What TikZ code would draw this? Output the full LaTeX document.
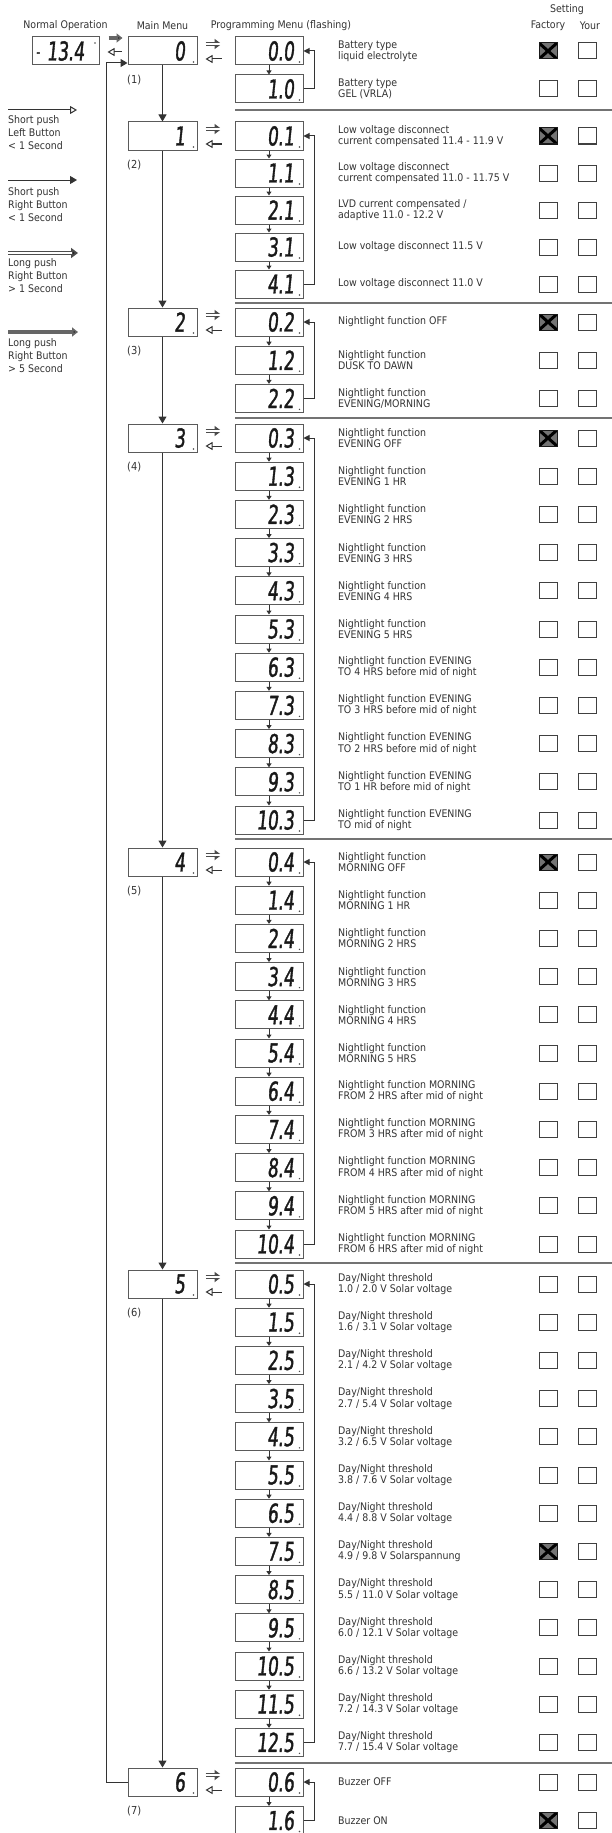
\documentclass[tikz,border=0pt]{standalone}
\usepackage{fontspec}
\setmainfont{DejaVu Sans Condensed}
\newfontfamily\segfont[FakeStretch=0.72,FakeSlant=0.1,FakeBold=1.4]{DejaVu Sans Condensed}
\usetikzlibrary{arrows.meta}
\definecolor{ink}{HTML}{333333}
\definecolor{frame}{HTML}{5A5A5A}
\tikzset{
  lcd/.style={draw=frame,line width=1pt,minimum height=28pt,inner ysep=0pt,align=right,text=black!90,
    font=\segfont\fontsize{26}{26}\selectfont,
    path picture={\fill[black!70] ([shift={(-3.5pt,3pt)}]path picture bounding box.south east) circle (0.8pt);}},
  mn/.style={lcd,text width=45pt,inner xsep=12pt},
  pm/.style={lcd,text width=50pt,inner xsep=9pt},
  nm/.style={lcd,text width=59pt,inner xsep=4pt,align=left,
    path picture={\fill[black!70] ([shift={(-4pt,-6pt)}]path picture bounding box.north east) circle (0.8pt);}},
  txt/.style={anchor=west,align=left,inner sep=0pt,text=ink,font=\fontsize{10.5}{9}\selectfont},
  hdr/.style={inner sep=0pt,text=ink,font=\fontsize{10.5}{12}\selectfont},
  lgd/.style={anchor=north west,align=left,inner sep=0pt,text=ink,font=\fontsize{10.5}{13}\selectfont},
  lbl/.style={anchor=west,inner sep=0pt,text=ink,font=\fontsize{11}{12}\selectfont},
  cb0/.style={draw=black!75,line width=1pt,minimum width=18pt,minimum height=16pt,inner sep=0pt},
  cb1/.style={cb0,fill=black!55,draw=black!90,
    path picture={\draw[black,line width=3pt]
      (path picture bounding box.north west) -- (path picture bounding box.south east)
      (path picture bounding box.north east) -- (path picture bounding box.south west);}},
  sep/.style={draw=black!55,line width=1.3pt},
  sr/.style={draw=ink,line width=1pt,-{Triangle[length=7pt,width=8pt]}},
  dn/.style={draw=ink,line width=1pt,-{Triangle[length=4pt,width=5pt]}},
  bk/.style={draw=ink,line width=1pt,-{Triangle[length=6pt,width=6pt]}},
  sl/.style={draw=ink,line width=1pt,-{Triangle[open,length=7pt,width=8pt]}},
  lp/.style={draw=black!70,line width=3.8pt,-{Triangle[length=7pt,width=10pt,fill=black!85]},
    postaction={draw=white,line width=1.1pt,-,shorten >=6pt}},
  lp5/.style={draw=black!60,line width=4pt,-{Triangle[length=6pt,width=9pt,fill=black!80]}},
}

\begin{document}
\begin{tikzpicture}[x=1pt,y=-1pt]
  \useasboundingbox (0,0) rectangle (612,1833);

  % headers
  \node[hdr] (h1) at (65.5,26) {Normal Operation};
  \node[hdr] (h2) at (162.5,26) {Main Menu};
  \node[hdr] (h3) at (281,26) {Programming Menu (flashing)};
  \node[hdr] (h4) at (567,10) {Setting};
  \node[hdr] (h5) at (548,26) {Factory};
  \node[hdr] (h6) at (590,26) {Your};

  % legend
  \coordinate (la1) at (8,110);  \coordinate (lb1) at (77,110);
  \coordinate (la2) at (8,180);  \coordinate (lb2) at (77,180);
  \coordinate (la3) at (8,253);  \coordinate (lb3) at (78,253);
  \coordinate (la4) at (8,332);  \coordinate (lb4) at (78,332);
  \draw[sl] (la1) -- (lb1);
  \draw[sr] (la2) -- (lb2);
  \draw[lp] (la3) -- (lb3);
  \draw[lp5] (la4) -- (lb4);
  \node[lgd] (lt1) at (8,115) {Short push\\Left Button\\< 1 Second};
  \node[lgd] (lt2) at (8,187) {Short push\\Right Button\\< 1 Second};
  \node[lgd] (lt3) at (8,258) {Long push\\Right Button\\> 1 Second};
  \node[lgd] (lt4) at (8,338) {Long push\\Right Button\\> 5 Second};

  % normal display and main menu
  \node[nm] (nrm) at (65.5,51) {\raisebox{3pt}{\fontsize{16}{16}\selectfont -}\hspace{7pt}13.4};
  \node[mn] (m0) at (162.5,51) {0};
  \node[mn] (m1) at (162.5,136) {1};
  \node[mn] (m2) at (162.5,322) {2};
  \node[mn] (m3) at (162.5,438) {3};
  \node[mn] (m4) at (162.5,862) {4};
  \node[mn] (m5) at (162.5,1284) {5};
  \node[mn] (m6) at (162.5,1782) {6};
  \node[lbl] (n0) at (127,80) {(1)};
  \node[lbl] (n1) at (127,165) {(2)};
  \node[lbl] (n2) at (127,351) {(3)};
  \node[lbl] (n3) at (127,467) {(4)};
  \node[lbl] (n4) at (127,891) {(5)};
  \node[lbl] (n5) at (127,1313) {(6)};
  \node[lbl] (n6) at (127,1811) {(7)};

  \draw[lp5,shorten <=9pt,shorten >=5pt] ([yshift=13pt]nrm.east) -- ([yshift=13pt]m0.west);
  \draw[sl,shorten <=6pt,shorten >=8pt] ([yshift=-1pt]m0.west) -- ([yshift=-1pt]nrm.east);
  \draw[sr] (m0) -- (m1);
  \draw[sr] (m1) -- (m2);
  \draw[sr] (m2) -- (m3);
  \draw[sr] (m3) -- (m4);
  \draw[sr] (m4) -- (m5);
  \draw[sr] (m5) -- (m6);
  \draw[sr] (m6.west) -- ++(-21,0) |- ([yshift=-12pt]m0.west);

  % programming menu, group 0
  \foreach \dg/\tx/\fx [count=\i from 0, evaluate=\i as \yy using 37+\i*38] in {
    0.0/{Battery type\\liquid electrolyte}/1,
    1.0/{Battery type\\GEL (VRLA)}/0}{
    \node[pm] (p0-\i) at (269,\yy+14) {\dg};
    \node[txt] (t0-\i) at (338,\yy+14) {\tx};
    \node[cb\fx] (f0-\i) at (548,\yy+14) {};
    \node[cb0] (u0-\i) at (587,\yy+14) {};
  }
  \foreach \i [evaluate=\i as \j using int(\i+1)] in {0}{\draw[dn] (p0-\i) -- (p0-\j);}
  \draw[bk] (p0-1.east) -- ++(11,0) |- (p0-0.east);

  % group 1
  \foreach \dg/\tx/\fx [count=\i from 0, evaluate=\i as \yy using 122+\i*37] in {
    0.1/{Low voltage disconnect\\current compensated 11.4 - 11.9 V}/1,
    1.1/{Low voltage disconnect\\current compensated 11.0 - 11.75 V}/0,
    2.1/{LVD current compensated /\\adaptive 11.0 - 12.2 V}/0,
    3.1/{Low voltage disconnect 11.5 V}/0,
    4.1/{Low voltage disconnect 11.0 V}/0}{
    \node[pm] (p1-\i) at (269,\yy+14) {\dg};
    \node[txt] (t1-\i) at (338,\yy+14) {\tx};
    \node[cb\fx] (f1-\i) at (548,\yy+14) {};
    \node[cb0] (u1-\i) at (587,\yy+14) {};
  }
  \foreach \i [evaluate=\i as \j using int(\i+1)] in {0,...,3}{\draw[dn] (p1-\i) -- (p1-\j);}
  \draw[bk] (p1-4.east) -- ++(11,0) |- (p1-0.east);

  % group 2
  \foreach \dg/\tx/\fx [count=\i from 0, evaluate=\i as \yy using 308+\i*38.2] in {
    0.2/{Nightlight function OFF}/1,
    1.2/{Nightlight function\\DUSK  TO DAWN}/0,
    2.2/{Nightlight function\\EVENING/MORNING}/0}{
    \node[pm] (p2-\i) at (269,\yy+14) {\dg};
    \node[txt] (t2-\i) at (338,\yy+14) {\tx};
    \node[cb\fx] (f2-\i) at (548,\yy+14) {};
    \node[cb0] (u2-\i) at (587,\yy+14) {};
  }
  \foreach \i [evaluate=\i as \j using int(\i+1)] in {0,1}{\draw[dn] (p2-\i) -- (p2-\j);}
  \draw[bk] (p2-2.east) -- ++(11,0) |- (p2-0.east);

  % group 3
  \foreach \dg/\tx/\fx [count=\i from 0, evaluate=\i as \yy using 424+\i*38.2] in {
    0.3/{Nightlight function\\EVENING OFF}/1,
    1.3/{Nightlight function\\EVENING 1 HR}/0,
    2.3/{Nightlight function\\EVENING 2 HRS}/0,
    3.3/{Nightlight function\\EVENING 3 HRS}/0,
    4.3/{Nightlight function\\EVENING 4 HRS}/0,
    5.3/{Nightlight function\\EVENING 5 HRS}/0,
    6.3/{Nightlight function EVENING\\TO 4 HRS before mid of night}/0,
    7.3/{Nightlight function EVENING\\TO 3 HRS before mid of night}/0,
    8.3/{Nightlight function EVENING\\TO 2 HRS before mid of night}/0,
    9.3/{Nightlight function EVENING\\TO 1 HR before mid of night}/0,
    10.3/{Nightlight function EVENING\\TO mid of night}/0}{
    \node[pm] (p3-\i) at (269,\yy+14) {\dg};
    \node[txt] (t3-\i) at (338,\yy+14) {\tx};
    \node[cb\fx] (f3-\i) at (548,\yy+14) {};
    \node[cb0] (u3-\i) at (587,\yy+14) {};
  }
  \foreach \i [evaluate=\i as \j using int(\i+1)] in {0,...,9}{\draw[dn] (p3-\i) -- (p3-\j);}
  \draw[bk] (p3-10.east) -- ++(11,0) |- (p3-0.east);

  % group 4
  \foreach \dg/\tx/\fx [count=\i from 0, evaluate=\i as \yy using 848+\i*38.2] in {
    0.4/{Nightlight function\\MORNING OFF}/1,
    1.4/{Nightlight function\\MORNING 1 HR}/0,
    2.4/{Nightlight function\\MORNING 2 HRS}/0,
    3.4/{Nightlight function\\MORNING 3 HRS}/0,
    4.4/{Nightlight function\\MORNING 4 HRS}/0,
    5.4/{Nightlight function\\MORNING 5 HRS}/0,
    6.4/{Nightlight function MORNING\\FROM 2 HRS after mid of night}/0,
    7.4/{Nightlight function MORNING\\FROM 3 HRS after mid of night}/0,
    8.4/{Nightlight function MORNING\\FROM 4 HRS after mid of night}/0,
    9.4/{Nightlight function MORNING\\FROM 5 HRS after mid of night}/0,
    10.4/{Nightlight function MORNING\\FROM 6 HRS after mid of night}/0}{
    \node[pm] (p4-\i) at (269,\yy+14) {\dg};
    \node[txt] (t4-\i) at (338,\yy+14) {\tx};
    \node[cb\fx] (f4-\i) at (548,\yy+14) {};
    \node[cb0] (u4-\i) at (587,\yy+14) {};
  }
  \foreach \i [evaluate=\i as \j using int(\i+1)] in {0,...,9}{\draw[dn] (p4-\i) -- (p4-\j);}
  \draw[bk] (p4-10.east) -- ++(11,0) |- (p4-0.east);

  % group 5
  \foreach \dg/\tx/\fx [count=\i from 0, evaluate=\i as \yy using 1270+\i*38.2] in {
    0.5/{Day/Night threshold\\1.0 / 2.0 V Solar voltage}/0,
    1.5/{Day/Night threshold\\1.6  / 3.1 V Solar voltage}/0,
    2.5/{Day/Night threshold\\2.1 /  4.2 V Solar voltage}/0,
    3.5/{Day/Night threshold\\2.7  / 5.4 V Solar voltage}/0,
    4.5/{Day/Night threshold\\3.2 / 6.5 V Solar voltage}/0,
    5.5/{Day/Night threshold\\3.8  / 7.6 V Solar voltage}/0,
    6.5/{Day/Night threshold\\4.4  / 8.8 V Solar voltage}/0,
    7.5/{Day/Night threshold\\4.9 / 9.8 V Solarspannung}/1,
    8.5/{Day/Night threshold\\5.5 / 11.0 V Solar voltage}/0,
    9.5/{Day/Night threshold\\6.0 / 12.1 V Solar voltage}/0,
    10.5/{Day/Night threshold\\6.6  / 13.2 V Solar voltage}/0,
    11.5/{Day/Night threshold\\7.2  / 14.3 V Solar voltage}/0,
    12.5/{Day/Night threshold\\7.7 / 15.4 V Solar voltage}/0}{
    \node[pm] (p5-\i) at (269,\yy+14) {\dg};
    \node[txt] (t5-\i) at (338,\yy+14) {\tx};
    \node[cb\fx] (f5-\i) at (548,\yy+14) {};
    \node[cb0] (u5-\i) at (587,\yy+14) {};
  }
  \foreach \i [evaluate=\i as \j using int(\i+1)] in {0,...,11}{\draw[dn] (p5-\i) -- (p5-\j);}
  \draw[bk] (p5-12.east) -- ++(11,0) |- (p5-0.east);

  % group 6
  \foreach \dg/\tx/\fx [count=\i from 0, evaluate=\i as \yy using 1768+\i*38.5] in {
    0.6/{Buzzer OFF}/0,
    1.6/{Buzzer ON}/1}{
    \node[pm] (p6-\i) at (269,\yy+14) {\dg};
    \node[txt] (t6-\i) at (338,\yy+14) {\tx};
    \node[cb\fx] (f6-\i) at (548,\yy+14) {};
    \node[cb0] (u6-\i) at (587,\yy+14) {};
  }
  \draw[dn] (p6-0) -- (p6-1);
  \draw[bk] (p6-1.east) -- ++(11,0) |- (p6-0.east);

  % main to programming menu
  \foreach \g in {0,...,6}{
    \draw[lp,shorten <=8pt,shorten >=13pt] ([yshift=7pt]m\g.east) -- ([yshift=7pt]p\g-0.west);
    \draw[sl,shorten <=13pt,shorten >=8pt] ([yshift=-8pt]p\g-0.west) -- ([yshift=-8pt]m\g.east);
  }

  % separators
  \draw[sep] (235,110) -- (612,110);
  \draw[sep] (235,303) -- (612,303);
  \draw[sep] (235,418) -- (612,418);
  \draw[sep] (235,839) -- (612,839);
  \draw[sep] (235,1263) -- (612,1263);
  \draw[sep] (235,1763) -- (612,1763);
\end{tikzpicture}
\end{document}
